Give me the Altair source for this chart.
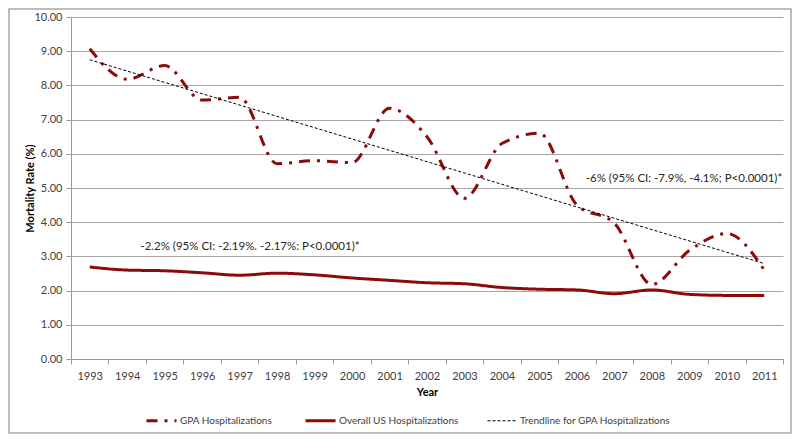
import altair as alt
import pandas as pd

years = list(range(1993, 2012))
gpa_values = [9.07, 8.18, 8.58, 7.57, 7.65, 5.71, 5.80, 5.74, 7.33, 6.50, 4.70,
              6.30, 6.60, 4.50, 3.97, 2.18, 3.17, 3.67, 2.60]
overall_values = [2.69, 2.60, 2.58, 2.52, 2.45, 2.51, 2.46, 2.37, 2.30, 2.23, 2.20,
                  2.09, 2.04, 2.02, 1.91, 2.02, 1.89, 1.86, 1.86]
trend_years = [1993, 2011]
trend_values = [8.75, 2.79]

series_names = ["GPA Hospitalizations", "Overall US Hospitalizations",
                "Trendline for GPA Hospitalizations"]

rows = []
for y, v in zip(years, gpa_values):
    rows.append({"year": y, "value": v, "series": series_names[0]})
for y, v in zip(years, overall_values):
    rows.append({"year": y, "value": v, "series": series_names[1]})
for y, v in zip(trend_years, trend_values):
    rows.append({"year": y, "value": v, "series": series_names[2]})
df = pd.DataFrame(rows)

FONT = "Lato"
RED = "#8B0A0A"
Y_TICKS = [0, 1, 2, 3, 4, 5, 6, 7, 8, 9, 10]

x_enc = alt.X("year:O", bandPosition=0.5,
              scale=alt.Scale(type="band", paddingInner=0, paddingOuter=0, domain=years),
              axis=alt.Axis(title="Year", labelAngle=0, tickBand="extent",
                            grid=False, domainColor="#999999", tickColor="#999999",
                            tickSize=5, labelPadding=6, labelFontSize=11,
                            labelColor="#404040", titleFontSize=11, titleFontWeight="bold",
                            titleColor="#000000", titlePadding=5))
y_axis = alt.Axis(title="Mortality Rate (%)", format=".2f",
                  values=Y_TICKS, labelOverlap=False,
                  grid=True, gridColor="#A6A6A6", gridWidth=1.2,
                  domainColor="#999999", tickColor="#999999", tickSize=5,
                  labelPadding=4, labelFontSize=11, labelColor="#404040",
                  titleFontSize=11, titleFontWeight="bold", titleColor="#000000",
                  titleX=-36)
y_scale = alt.Scale(domain=[0, 10], nice=False)
y_enc = alt.Y("value:Q", scale=y_scale, axis=y_axis)

legend = alt.Legend(title=None, orient="none", direction="horizontal",
                    legendX=74, legendY=387, symbolType="stroke",
                    symbolSize=900, labelFontSize=10,
                    labelColor="#404040", labelFont=FONT,
                    labelLimit=400, columnPadding=26, labelOffset=2)

lines = alt.Chart(df).mark_line(interpolate="monotone").encode(
    x=x_enc,
    y=y_enc,
    color=alt.Color("series:N", scale=alt.Scale(domain=series_names,
                                                 range=[RED, RED, "#000000"]),
                    legend=legend),
    strokeDash=alt.StrokeDash("series:N", scale=alt.Scale(domain=series_names,
                                                          range=[[11, 7, 3, 7], [1, 0], [3, 2]]),
                              legend=legend),
    strokeWidth=alt.StrokeWidth("series:N", scale=alt.Scale(type="ordinal",
                                                            domain=series_names,
                                                            range=[3, 3, 1]),
                                legend=legend),
    order=alt.Order("year:O"),
)

ann_text = ["-6% (95% CI: -7.9%, -4.1%; P<0.0001)*",
            "-2.2% (95% CI: -2.19%. -2.17%: P<0.0001)*"]
ann_value = [5.27, 3.28]
ann_df = pd.DataFrame({"text": ann_text, "value": ann_value, "px": [613, 179]})

ann = alt.Chart(ann_df).mark_text(font=FONT, fontSize=11.5, color="#262626").encode(
    x=alt.X("px:Q", scale=None),
    y=alt.Y("value:Q", scale=y_scale, axis=y_axis),
    text="text:N",
)

border = alt.Chart(pd.DataFrame({"a": [0]})).mark_rect(
    fill=None, stroke="#A6A6A6", strokeWidth=1.5).encode(
    x=alt.value(-62), x2=alt.value(720), y=alt.value(-8), y2=alt.value(416))

chart = alt.layer(lines, ann, border).properties(
    width=712, height=342,
    autosize=alt.AutoSizeParams(type="none"),
    padding={"left": 63, "top": 9, "right": 9, "bottom": 75},
).configure(font=FONT).configure_view(stroke=None).configure_axis(
    labelFont=FONT, titleFont=FONT)

chart.save("out.html", embed_options={"renderer": "svg", "actions": False})
